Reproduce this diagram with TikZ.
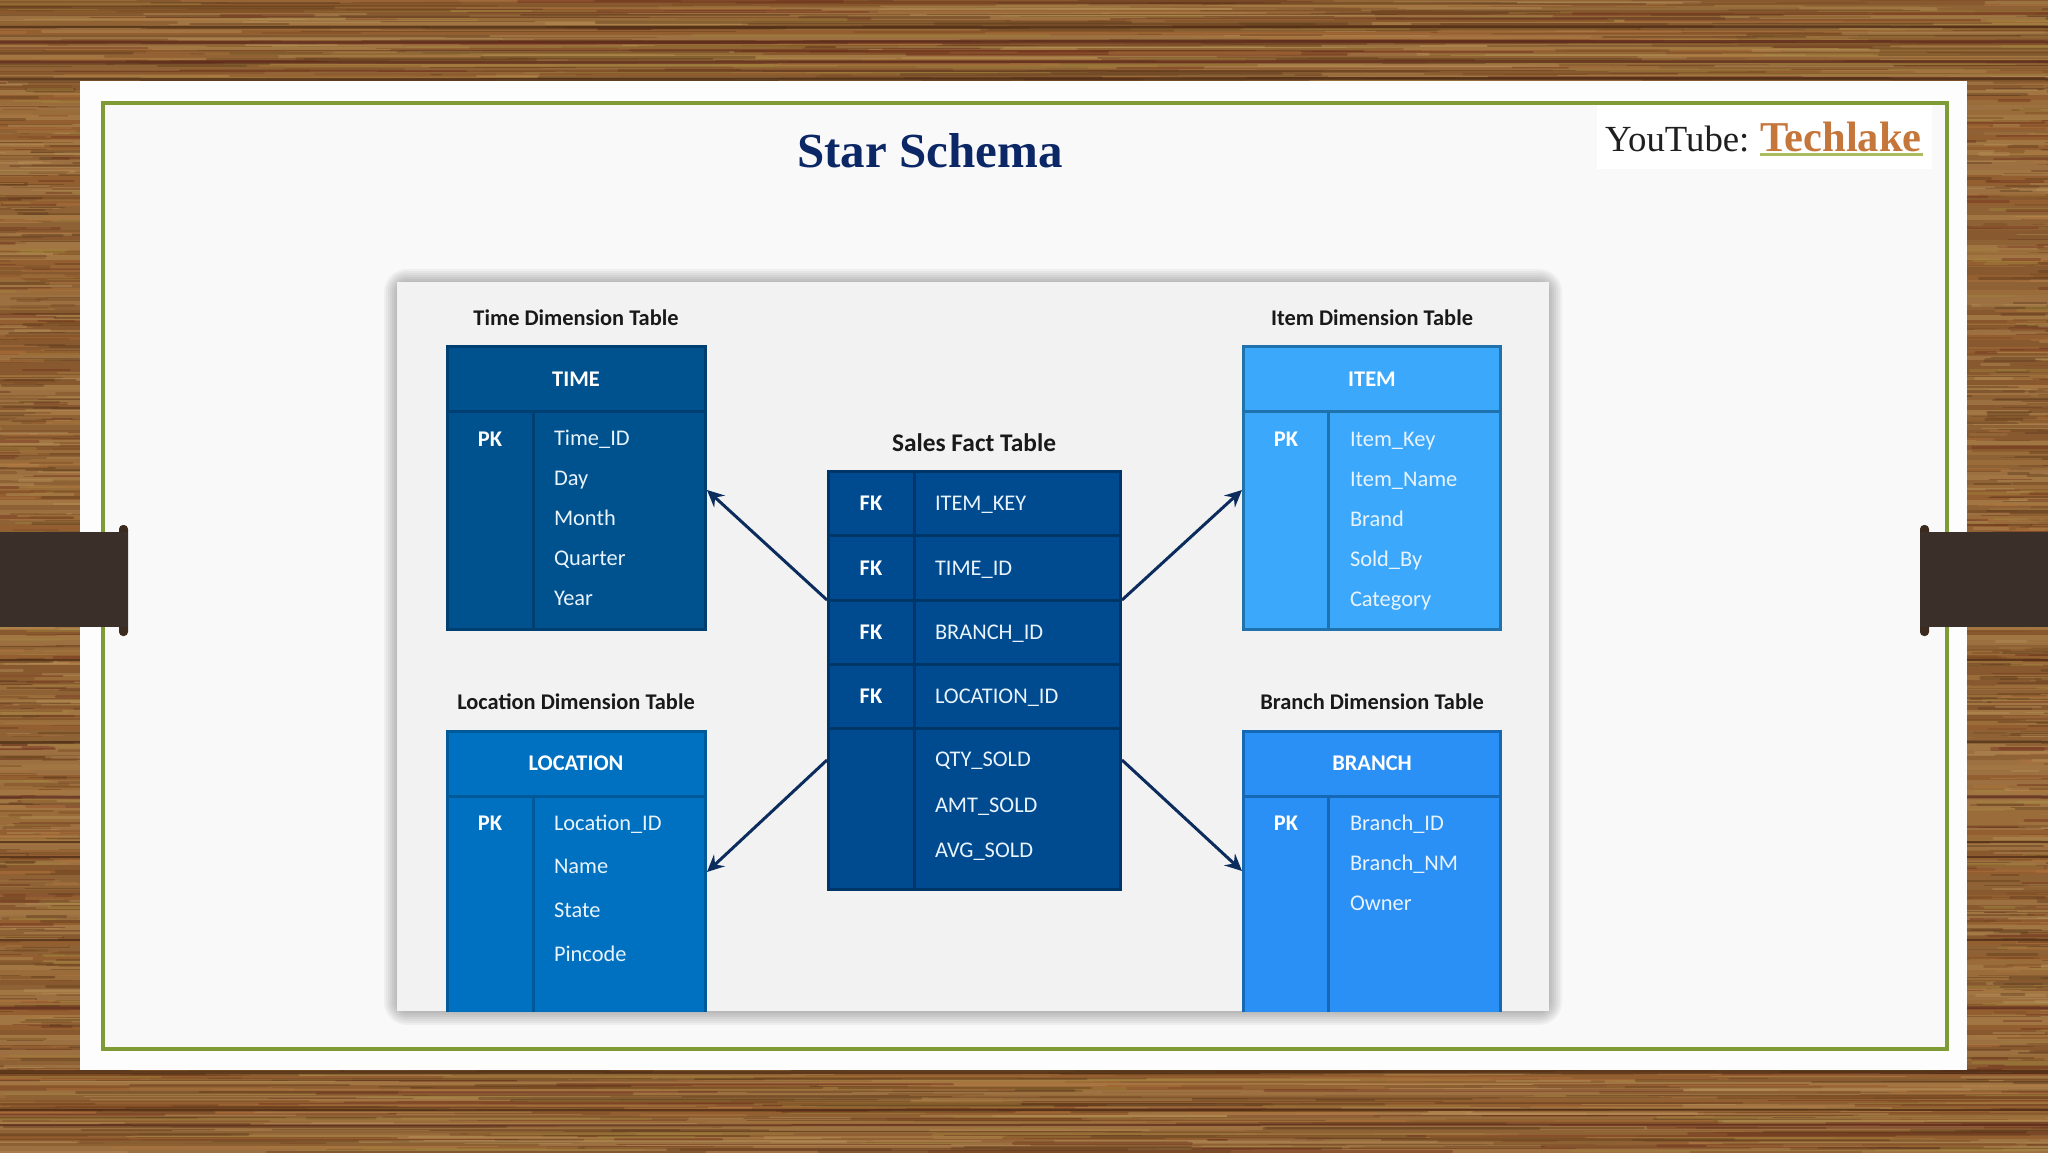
\documentclass[tikz,border=0pt]{standalone}
\usepackage{fontspec}
\setmainfont{Carlito}
\newfontfamily\slideserif{Liberation Serif}
\usetikzlibrary{arrows.meta}
\definecolor{wa}{HTML}{9A6C3A}\definecolor{wb}{HTML}{8E6234}\definecolor{wc}{HTML}{A27642}
\definecolor{wd}{HTML}{88592F}\definecolor{we}{HTML}{9C7040}\definecolor{wf}{HTML}{935F30}
\definecolor{sa}{HTML}{5E3A1C}\definecolor{sb}{HTML}{6E2E1C}\definecolor{sc}{HTML}{B8935C}
\definecolor{sd}{HTML}{A0843C}\definecolor{se}{HTML}{B0743E}\definecolor{sf}{HTML}{7A4A22}
\definecolor{darkline}{HTML}{4A2A14}\definecolor{maroon}{HTML}{5E2A1E}
\definecolor{tabdark}{HTML}{3A3029}\definecolor{knob}{HTML}{3B2A1E}
\definecolor{slideouter}{HTML}{FDFDFD}\definecolor{slideinner}{HTML}{F9F9F9}
\definecolor{framegreen}{HTML}{7F9B36}\definecolor{titlenavy}{HTML}{0C2766}
\definecolor{linkorange}{HTML}{C5763A}\definecolor{linkline}{HTML}{A9BC5E}
\definecolor{panel}{HTML}{F2F2F2}\definecolor{arrowblue}{HTML}{0C2C5E}
\definecolor{timefill}{HTML}{00528F}\definecolor{timeedge}{HTML}{003F72}
\definecolor{factfill}{HTML}{004B90}\definecolor{factedge}{HTML}{003568}
\definecolor{itemfill}{HTML}{3BA8FC}\definecolor{itemedge}{HTML}{1F72AC}
\definecolor{locfill}{HTML}{0070C0}\definecolor{locedge}{HTML}{005A9A}
\definecolor{branchfill}{HTML}{2B90F6}\definecolor{branchedge}{HTML}{1468B4}
\definecolor{softwhite}{HTML}{E8F3FC}
\pgfmathdeclarerandomlist{woodbase}{{wa}{wb}{wc}{wd}{we}{wf}}
\pgfmathdeclarerandomlist{woodstreak}{{sa}{sb}{sc}{sd}{se}{sf}{sa}{wc}{sf}}
\tikzset{
  tablebox/.style={rectangle,inner sep=0pt,outer sep=0pt,line width=3pt},
  tablerule/.style={line width=3pt},
  rowtext/.style={anchor=base west,inner sep=0pt,outer sep=0pt,text=softwhite,font=\fontsize{22.4}{26}\selectfont},
  keytext/.style={anchor=base,inner sep=0pt,outer sep=0pt,text=white,font=\fontsize{22.4}{26}\selectfont\bfseries},
  tabletitle/.style={anchor=base,inner sep=0pt,outer sep=0pt,text=black!90,font=\fontsize{22.4}{26}\selectfont\bfseries},
  facttitle/.style={tabletitle,font=\fontsize{25.4}{30}\selectfont\bfseries},
  fk/.style={line width=3pt,draw=arrowblue,-{Stealth[length=17pt,width=16pt,inset=6pt]}},
  tabbar/.style={fill=tabdark},
  tabknob/.style={fill=knob,rounded corners=4pt},
}
% name, x0, x1, xdiv, y0, yhead, y1, fill, edge
\newcommand{\dimframe}[9]{%
  \pgfmathsetmacro{\fw}{#3-#2-3}\pgfmathsetmacro{\fh}{#7-#5-3}%
  \pgfmathsetmacro{\fx}{(#2+#3)/2}\pgfmathsetmacro{\fy}{(#5+#7)/2}%
  \node[tablebox,fill=#8,draw=#9,minimum width=\fw pt,minimum height=\fh pt] (#1) at (\fx,\fy) {};
  \draw[tablerule,draw=#9] (#2,#6) -- (#3,#6);
  \draw[tablerule,draw=#9] (#4,#6) -- (#4,#7);
}
\begin{document}
\begin{tikzpicture}[x=1pt,y=-1pt]
\useasboundingbox (0,0) rectangle (2048,1152);
\begin{scope}
\clip (0,0) rectangle (2048,1152);
\pgfmathsetseed{4217}
\fill[wa] (0,0) rectangle (2048,1152);
% low-frequency wood bands
\foreach \b in {0,5,...,1152}{
  \pgfmathrandomitem{\c}{woodbase}
  \fill[\c] (0,\b) rectangle (2048,\b+6);
}
% streaks: top and bottom
\foreach \i in {1,...,520}{
  \pgfmathrandomitem{\c}{woodstreak}
  \pgfmathsetmacro{\yy}{rnd*81}\pgfmathsetmacro{\xx}{rnd*2200-150}\pgfmathsetmacro{\ll}{80+rnd*500}\pgfmathsetmacro{\tt}{0.8+rnd*2.4}
  \draw[\c,line width=\tt pt,opacity=.42,line cap=round] (\xx,\yy) -- (\xx+\ll,\yy);
}
\foreach \i in {1,...,520}{
  \pgfmathrandomitem{\c}{woodstreak}
  \pgfmathsetmacro{\yy}{1070+rnd*82}\pgfmathsetmacro{\xx}{rnd*2200-150}\pgfmathsetmacro{\ll}{80+rnd*500}\pgfmathsetmacro{\tt}{0.8+rnd*2.4}
  \draw[\c,line width=\tt pt,opacity=.42,line cap=round] (\xx,\yy) -- (\xx+\ll,\yy);
}
% streaks: left and right
\foreach \i in {1,...,650}{
  \pgfmathrandomitem{\c}{woodstreak}
  \pgfmathsetmacro{\yy}{81+rnd*990}\pgfmathsetmacro{\xx}{rnd*100-40}\pgfmathsetmacro{\ll}{20+rnd*70}\pgfmathsetmacro{\tt}{0.8+rnd*2.4}
  \draw[\c,line width=\tt pt,opacity=.42,line cap=round] (\xx,\yy) -- (\xx+\ll,\yy);
}
\foreach \i in {1,...,650}{
  \pgfmathrandomitem{\c}{woodstreak}
  \pgfmathsetmacro{\yy}{81+rnd*990}\pgfmathsetmacro{\xx}{1950+rnd*100}\pgfmathsetmacro{\ll}{20+rnd*70}\pgfmathsetmacro{\tt}{0.8+rnd*2.4}
  \draw[\c,line width=\tt pt,opacity=.42,line cap=round] (\xx,\yy) -- (\xx+\ll,\yy);
}
% the distinct dark grain lines
\foreach \y/\c/\w in {27/darkline/2.5,42/maroon/3,62/maroon/2.5,79/darkline/3,660/darkline/2,742/darkline/3,797/maroon/3,842/darkline/2,857/darkline/2,940/darkline/2,1008/maroon/3,1072/darkline/4,1110/darkline/2,1125/maroon/2}{
  \draw[\c,line width=\w pt,opacity=.75] (0,\y) .. controls (700,\y+1.5) and (1300,\y-1.5) .. (2048,\y);
}
\end{scope}
% slide
\fill[slideouter] (80,81) rectangle (1967,1070);
\fill[slideinner] (103,103) rectangle (1947,1049);
\draw[framegreen,line width=3.2pt] (103,103) rectangle (1947,1049);
% tabs
\fill[tabknob] (119,525) rectangle (128,636);
\fill[tabbar] (0,532) rectangle (128,627);
\fill[tabknob] (1920,525) rectangle (1929,636);
\fill[tabbar] (1920,532) rectangle (2048,627);
% title and link
\node[anchor=base,inner sep=0pt,text=titlenavy,font=\slideserif\fontsize{49}{54}\selectfont\bfseries] (title) at (930,167) {Star Schema};
\fill[white] (1597,105) rectangle (1932,169);
\node[anchor=base west,inner sep=0pt,text=black!88,font=\slideserif\fontsize{36.8}{40}\selectfont] (yt) at (1605,151) {YouTube:};
\node[anchor=base west,inner sep=0pt,text=linkorange,font=\slideserif\fontsize{42.5}{46}\selectfont\bfseries] (tech) at (1760,151) {Techlake};
\fill[linkline] (1760,153) rectangle (1923,155.5);
% panel shadow
\foreach \e in {-3,-1,...,13}{
  \pgfmathsetmacro{\rc}{\e+10}
  \fill[black,opacity=.04,rounded corners=\rc pt] (397-\e,282-\e) rectangle (1549+\e,1011+\e+1);
}
\fill[panel] (397,282) rectangle (1549,1011);
\begin{scope}
\clip (397,282) rectangle (1549,1011);
\dimframe{time}{446}{707}{533}{345}{411}{631}{timefill}{timeedge}
\dimframe{item}{1242}{1502}{1328}{345}{411}{631}{itemfill}{itemedge}
\dimframe{location}{446}{707}{533}{730}{796}{1040}{locfill}{locedge}
\dimframe{branch}{1242}{1502}{1328}{730}{796}{1040}{branchfill}{branchedge}
\node[tablebox,fill=factfill,draw=factedge,minimum width=292pt,minimum height=418pt] (fact) at (974.5,680.5) {};
\foreach \y in {535,600,664,728}{\draw[tablerule,draw=factedge] (827,\y) -- (1122,\y);}
\draw[tablerule,draw=factedge] (914,470) -- (914,891);
\end{scope}
% table titles
\node[tabletitle] (ttime) at (576,325) {Time Dimension Table};
\node[tabletitle] (titem) at (1372,325) {Item Dimension Table};
\node[facttitle] (tfact) at (974,451) {Sales Fact Table};
\node[tabletitle] (tloc) at (576,709) {Location Dimension Table};
\node[tabletitle] (tbranch) at (1372,709) {Branch Dimension Table};
% headers
\node[keytext] (htime) at (576,386) {TIME};
\node[keytext] (hitem) at (1372,386) {ITEM};
\node[keytext] (hloc) at (576,770) {LOCATION};
\node[keytext] (hbranch) at (1372,770) {BRANCH};
% PK / FK
\node[keytext] (pk1) at (490,446) {PK};
\node[keytext] (pk2) at (1286,446) {PK};
\node[keytext] (pk3) at (490,830) {PK};
\node[keytext] (pk4) at (1286,830) {PK};
\foreach \y in {510,575,639,703}{\node[keytext] (fk\y) at (871,\y) {FK};}
% rows
\foreach \t/\y in {Time\_ID/445,Day/485,Month/525,Quarter/565,Year/605}{\node[rowtext] (timer\y) at (554,\y) {\t};}
\foreach \t/\y in {Item\_Key/446,Item\_Name/486,Brand/526,Sold\_By/566,Category/606}{\node[rowtext] (itemr\y) at (1350,\y) {\t};}
\foreach \t/\y in {Location\_ID/830,Name/873,State/917,Pincode/961}{\node[rowtext] (locr\y) at (554,\y) {\t};}
\foreach \t/\y in {Branch\_ID/830,Branch\_NM/870,Owner/910}{\node[rowtext] (brr\y) at (1350,\y) {\t};}
\foreach \t/\y in {ITEM\_KEY/510,TIME\_ID/575,BRANCH\_ID/639,LOCATION\_ID/703,QTY\_SOLD/766,AMT\_SOLD/812,AVG\_SOLD/857}{\node[rowtext] (factr\y) at (935,\y) {\t};}
% connector end points on the table edges
\coordinate (fnw) at (827,600);
\coordinate (fne) at (1122,600);
\coordinate (fsw) at (827,760);
\coordinate (fse) at (1122,760);
\coordinate (tin) at (707,490);
\coordinate (iin) at (1242,490);
\coordinate (lin) at (707,872);
\coordinate (bin) at (1242,871);
\draw[fk] (fnw) -- (tin);
\draw[fk] (fne) -- (iin);
\draw[fk] (fsw) -- (lin);
\draw[fk] (fse) -- (bin);
\end{tikzpicture}
\end{document}
